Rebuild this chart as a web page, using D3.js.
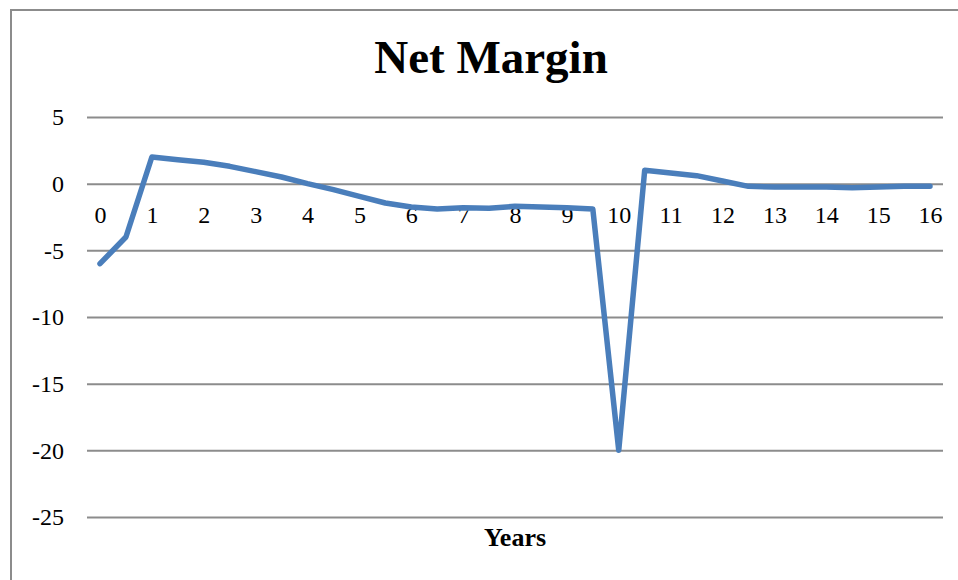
<!DOCTYPE html>
<html>
<head>
<meta charset="utf-8">
<script src="https://cdn.jsdelivr.net/npm/d3@7"></script>
<style>
  html, body { margin: 0; padding: 0; background: #fff; }
  svg { display: block; font-family: "Liberation Serif", "Times New Roman", serif; }
</style>
</head>
<body>
<svg id="chart" width="958" height="580"></svg>
<script>
// half-year steps, 0..16
const years = d3.range(0, 16.01, 0.5);
const netMargin = [
  -6.0, -4.0, 2.0, 1.8, 1.6, 1.3, 0.9, 0.5, 0.0, -0.45, -0.95,
  -1.45, -1.75, -1.9, -1.8, -1.85, -1.7, -1.75, -1.8, -1.9, -20.0,
  1.0, 0.8, 0.6, 0.2, -0.2, -0.25, -0.25, -0.25, -0.3, -0.25, -0.2, -0.2
];
const xTickLabels = d3.range(0, 17);
const yTicks = [5, 0, -5, -10, -15, -20, -25];

const svg = d3.select("#chart");

// outer chart frame (runs off the right/bottom of the picture)
svg.append("rect")
  .attr("x", 11).attr("y", 10)
  .attr("width", 980).attr("height", 600)
  .attr("fill", "#fff")
  .attr("stroke", "#8c8c8c")
  .attr("stroke-width", 2);

const x = d3.scaleLinear().domain([0, 16]).range([100, 930]);
const y = d3.scaleLinear().domain([-25, 5]).range([517, 117]);

// gridlines + y labels (plain hyphen minus, like the original)
const yAxis = svg.append("g")
  .attr("transform", "translate(87,0)")
  .call(d3.axisLeft(y).tickValues(yTicks).tickSize(-856).tickPadding(23)
    .tickFormat(d => String(d)));
yAxis.select(".domain").remove();
yAxis.selectAll(".tick line").attr("stroke", "#8c8c8c").attr("stroke-width", 2);
yAxis.selectAll(".tick text")
  .attr("font-size", 24)
  .attr("font-family", "Liberation Serif, serif")
  .attr("fill", "#000");

// category labels sit under the zero line
const xAxis = svg.append("g")
  .attr("transform", `translate(0,${y(0)})`)
  .call(d3.axisBottom(x).tickValues(xTickLabels).tickSize(0).tickPadding(22)
    .tickFormat(d => String(d)));
xAxis.select(".domain").remove();
xAxis.selectAll(".tick text")
  .attr("font-size", 24)
  .attr("font-family", "Liberation Serif, serif")
  .attr("fill", "#000");

// series
const line = d3.line()
  .x((d, i) => x(years[i]))
  .y(d => y(d));

svg.append("path")
  .datum(netMargin)
  .attr("fill", "none")
  .attr("stroke", "#4a7ebb")
  .attr("stroke-width", 5.5)
  .attr("stroke-linejoin", "round")
  .attr("stroke-linecap", "round")
  .attr("d", line);

// title + axis title
svg.append("text")
  .attr("x", 491).attr("y", 73)
  .attr("text-anchor", "middle")
  .attr("font-size", 47)
  .attr("font-weight", "bold")
  .text("Net Margin");

svg.append("text")
  .attr("x", 515).attr("y", 546)
  .attr("text-anchor", "middle")
  .attr("font-size", 26)
  .attr("font-weight", "bold")
  .text("Years");
</script>
</body>
</html>
